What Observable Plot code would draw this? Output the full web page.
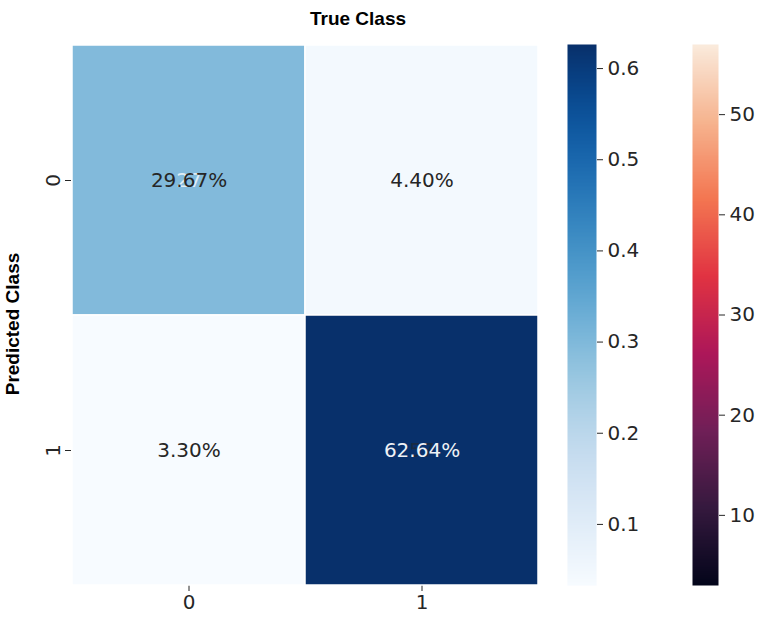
<!DOCTYPE html>
<html>
<head>
<meta charset="utf-8">
<script src="https://cdn.jsdelivr.net/npm/d3@7"></script>
<script src="https://cdn.jsdelivr.net/npm/@observablehq/plot@0.6"></script>
<style>
  html, body { margin: 0; padding: 0; background: #fff; }
  #wrap { position: relative; width: 778px; height: 619px; overflow: hidden; }
  #wrap > svg, #wrap > div { position: absolute; }
  .lab { font-family: "Liberation Sans", Arial, sans-serif; font-weight: bold; font-size: 19px; color: #000; white-space: nowrap; }
</style>
</head>
<body>
<div id="wrap"></div>
<script>
// ---- data ----
const trueClasses = ["0", "1"];
const predClasses = ["0", "1"];
const cellTrue = ["0", "1", "0", "1"];
const cellPred = ["0", "0", "1", "1"];
const cellCounts = [27, 4, 3, 57];
const cellShares = [0.2967, 0.0440, 0.0330, 0.6264];
const blueTicks = [0.1, 0.2, 0.3, 0.4, 0.5, 0.6];
const countTicks = [10, 20, 30, 40, 50];
const rocketStops = ["#03051a", "#35193e", "#701f57", "#ad1759", "#e13342", "#f37651", "#f6b48f", "#faebdd"];
const titleText = "True Class";
const yLabelText = "Predicted Class";

const cells = cellTrue.map((t, i) => ({t, p: cellPred[i], count: cellCounts[i], share: cellShares[i]}));
const shareDomain = [d3.min(cellShares), d3.max(cellShares)];
const countDomain = [d3.min(cellCounts), d3.max(cellCounts)];
const rocket = d3.piecewise(d3.interpolateRgb, rocketStops);
const countColor = d => (rocket((d.count - countDomain[0]) / (countDomain[1] - countDomain[0])) && ((d.count - countDomain[0]) / (countDomain[1] - countDomain[0]) < 0.6));

const wrap = document.getElementById("wrap");
const baseStyle = {fontFamily: "DejaVu Sans", fontSize: "20px", color: "#262626", background: "transparent", overflow: "visible"};
const pctFmt = d => (d.share * 100).toFixed(2) + "%";
const darkCell = d => d.share > 0.45;
const countLight = d => ((d.count - countDomain[0]) / (countDomain[1] - countDomain[0])) < 0.6;

const main = Plot.plot({
  width: 778, height: 619,
  marginLeft: 71, marginRight: 240, marginTop: 44, marginBottom: 34,
  style: baseStyle,
  x: {domain: trueClasses, padding: 0, label: null, tickSize: 6, tickPadding: 3},
  y: {domain: predClasses, padding: 0, label: null, tickSize: 6, tickPadding: 6, tickRotate: -90},
  color: {type: "linear", domain: shareDomain, interpolate: d3.interpolateBlues},
  marks: [
    Plot.cell(cells, {x: "t", y: "p", fill: "share", stroke: "white", strokeWidth: 1.5}),
    Plot.text(cells.filter(countLight), {x: "t", y: "p", text: d => String(d.count), fill: "#ffffff", fillOpacity: 0.75}),
    Plot.text(cells.filter(d => !countLight(d)), {x: "t", y: "p", text: d => String(d.count), fill: "#262626", fillOpacity: 0.6}),
    Plot.text(cells.filter(d => !darkCell(d)), {x: "t", y: "p", text: pctFmt, fill: "#262626"}),
    Plot.text(cells.filter(darkCell), {x: "t", y: "p", text: pctFmt, fill: "#eef1f6"})
  ]
});
main.style.left = "0px"; main.style.top = "0px";
wrap.appendChild(main);

function colorbar(domain, interp, ticks, fmt, left, barW, rightM) {
  const p = Plot.plot({
    width: barW + rightM, height: 619,
    marginLeft: 0, marginRight: rightM, marginTop: 44, marginBottom: 34,
    style: baseStyle,
    x: {domain: [0, 1], axis: null},
    y: {domain: domain, axis: "right", ticks: ticks, tickFormat: fmt, tickSize: 6, tickPadding: 5, label: null},
    color: {type: "linear", domain: domain, interpolate: interp},
    marks: [
      Plot.raster({x1: 0, x2: 1, y1: domain[0], y2: domain[1], fill: (x, y) => y, width: 2, height: 400, imageRendering: "auto"})
    ]
  });
  p.style.left = left + "px"; p.style.top = "0px";
  wrap.appendChild(p);
}
colorbar(shareDomain, d3.interpolateBlues, blueTicks, d3.format(".1f"), 567, 29, 90);
colorbar(countDomain, rocket, countTicks, d3.format("d"), 692, 26, 80);

// title and y label
const title = document.createElement("div");
title.className = "lab";
title.textContent = titleText;
title.style.left = "358px"; title.style.top = "19px";
title.style.transform = "translate(-50%, -50%)";
wrap.appendChild(title);

const ylab = document.createElement("div");
ylab.className = "lab";
ylab.textContent = yLabelText;
ylab.style.left = "13px"; ylab.style.top = "324px";
ylab.style.transform = "translate(-50%, -50%) rotate(-90deg)";
wrap.appendChild(ylab);
</script>
</body>
</html>
